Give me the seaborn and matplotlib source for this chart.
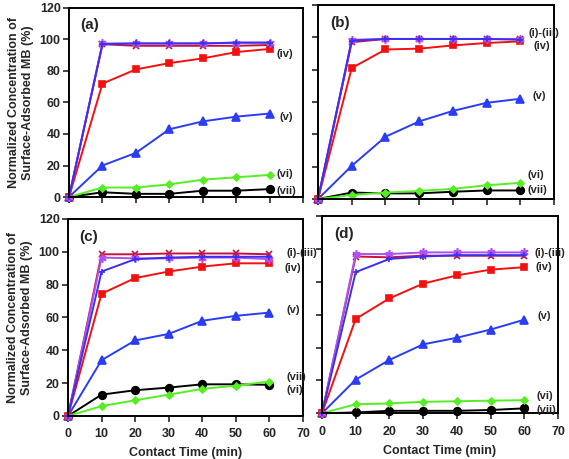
import matplotlib
matplotlib.use('Agg')
import matplotlib.pyplot as plt
import seaborn as sns
import numpy as np

# contact times (min)
time = [0, 10, 20, 30, 40, 50, 60]

# panel (a)
a_i = [0, 97, 96, 96, 96, 96, 96.5]
a_ii = [0, 97.5, 97.5, 97.5, 97.5, 98, 98]
a_iii = [0, 97, 97.5, 97.5, 97.5, 98, 98]
a_iv = [0, 72, 81, 85, 88, 92, 94]
a_v = [0, 20, 28, 43, 48, 51, 53]
a_vi = [0, 6, 6, 8, 11, 12.5, 14]
a_vii = [0, 3, 2, 2, 4, 4, 5]

# panel (b)
b_i = [0, 97, 99, 99, 99, 99, 99]
b_ii = [0, 98.5, 99, 99, 99, 99, 99]
b_iii = [0, 98, 99, 99, 99, 99, 98.5]
b_iv = [0, 81, 92.5, 93, 95, 96.5, 97.5]
b_v = [0, 20.5, 38.5, 48, 54.5, 59.5, 62]
b_vi = [0, 2.5, 4, 5, 6.3, 8.5, 10]
b_vii = [0, 4, 3.5, 3.5, 4.5, 5.3, 5.3]

# panel (c)
c_i = [0, 98.5, 98.5, 99, 99, 99, 98.5]
c_ii = [0, 96.5, 96, 96, 96.5, 96.5, 95.5]
c_iii = [0, 88, 95.5, 96.5, 97, 97, 97]
c_iv = [0, 74.5, 84, 88, 91, 93, 93]
c_v = [0, 34, 46, 50, 58, 61, 63]
c_vi = [0, 6, 9.6, 13, 16.5, 18.5, 21]
c_vii = [0, 13, 15.7, 17.3, 19.3, 19.3, 19]

# panel (d)
d_i = [0, 95.5, 95, 96, 96, 96, 96]
d_ii = [0, 97, 97, 98, 98, 98, 98]
d_iii = [0, 86, 94, 95.5, 96.3, 96.3, 96.3]
d_iv = [0, 57.5, 70, 79, 84, 87.5, 89]
d_v = [0, 20.5, 32.5, 42, 46, 51, 57]
d_vi = [0, 5.5, 6, 7, 7.3, 7.7, 8]
d_vii = [0, 0.5, 1.5, 1.5, 1.5, 2, 3]

panels = [
    ('(a)', [a_vii, a_vi, a_v, a_iv, a_i, a_ii, a_iii]),
    ('(b)', [b_vii, b_vi, b_v, b_iv, b_i, b_ii, b_iii]),
    ('(c)', [c_vii, c_vi, c_v, c_iv, c_i, c_ii, c_iii]),
    ('(d)', [d_vii, d_vi, d_v, d_iv, d_i, d_ii, d_iii]),
]

# series styles: vii, vi, v, iv, i, ii, iii
styles = [
    dict(color='black', marker='o', ms=5.5),
    dict(color='#55ee22', marker='D', ms=3.5),
    dict(color='#2a3cf5', marker='^', ms=5.5),
    dict(color='#f51010', marker='s', ms=5),
    dict(color='#c8103c', marker='x', ms=5),
    dict(color='#b050f0', marker=(6, 2, 0), ms=6),
    dict(color='#3a30f0', marker='+', ms=5),
]

# curve labels (text, x, y) per panel
labels = {
    '(a)': [('(iv)', 62, 91), ('(v)', 63, 51), ('(vi)', 62, 14.5), ('(vii)', 62, 3.5)],
    '(b)': [('(i)-(iii)', 62.5, 102.5), ('(iv)', 64, 94.5), ('(v)', 63.5, 63.5),
            ('(vi)', 62, 14.6), ('(vii)', 62, 5.6)],
    '(c)': [('(i)-(iii)', 65.2, 99), ('(iv)', 64.4, 90.3), ('(v)', 65, 64.5),
            ('(vii)', 65, 24), ('(vi)', 65, 16)],
    '(d)': [('(i)-(iii)', 63, 97.6), ('(iv)', 63.4, 89), ('(v)', 64, 59),
            ('(vi)', 63.7, 10.7), ('(vii)', 63.7, 2)],
}

sns.set_style('ticks')
plt.rcParams['font.family'] = ['Liberation Sans', 'DejaVu Sans']
plt.rcParams['font.weight'] = 'bold'

fig = plt.figure(figsize=(5.69, 4.59), dpi=100)
rects = [
    [0.1213, 0.5708, 0.4112, 0.4118],
    [0.5589, 0.5664, 0.4148, 0.4227],
    [0.1195, 0.0937, 0.4130, 0.4292],
    [0.5659, 0.0996, 0.4148, 0.4292],
]

for k, (name, series) in enumerate(panels):
    ax = fig.add_axes(rects[k])
    for vals, st in zip(series, styles):
        sns.lineplot(x=time, y=vals, ax=ax, color=st['color'], marker=st['marker'],
                     markersize=st['ms'], markeredgecolor=st['color'],
                     markeredgewidth=1.2, linewidth=1.4, clip_on=False)
    ax.set_xlim(0, 70)
    ax.set_ylim(0, 120)
    ax.set_xticks(range(0, 71, 10))
    ax.set_yticks(range(0, 121, 20))
    for sp in ax.spines.values():
        sp.set_visible(True)
        sp.set_linewidth(1.4)
        sp.set_color('black')
    ax.tick_params(direction='out', length=4, width=1.2, labelsize=9, pad=2)
    ax.tick_params(axis='x', pad=5)
    for t in ax.get_xticklabels() + ax.get_yticklabels():
        t.set_fontweight('bold')
    if k < 2:
        ax.set_xticklabels([])
    else:
        ax.set_xlabel('Contact Time (min)', fontsize=9, fontweight='bold', labelpad=5)
    if k % 2 == 1:
        ax.set_yticklabels([])
    else:
        ax.set_ylabel('Normalized Concentration of\nSurface-Adsorbed MB (%)',
                      fontsize=9, fontweight='bold', labelpad=4, linespacing=1.25)
    ax.text(3.5, 109, name, fontsize=11, fontweight='bold', va='center')
    for txt, tx, ty in labels[name]:
        ax.text(tx, ty, txt, fontsize=8, fontweight='bold', va='center',
                ha='left', clip_on=False)

fig.savefig('out.png', dpi=100)
